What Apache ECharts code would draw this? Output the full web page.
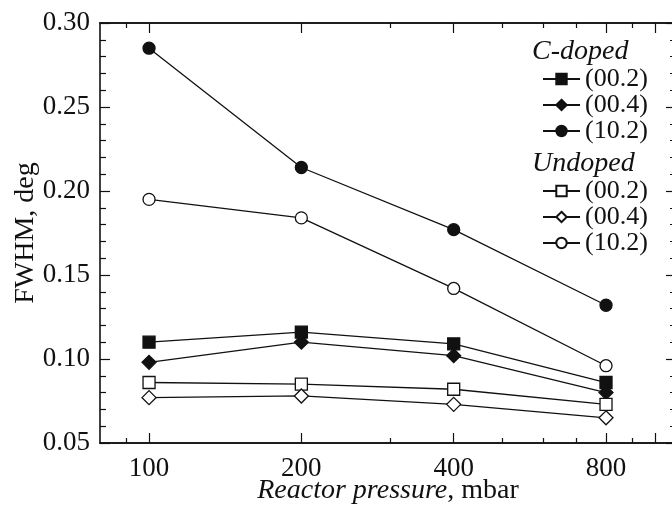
<!DOCTYPE html>
<head>
    <meta charset="utf-8">
    <title>FWHM vs reactor pressure</title>
    <script type="text/javascript" src="https://cdn.jsdelivr.net/npm/echarts@6/dist/echarts.min.js"></script>
    <style>
        html, body { margin: 0; padding: 0; background: #fff; }
    </style>
</head>

<body>
<div id="main" style="width:672px;height:506px"></div>

<script type="text/javascript">

    // data
    var pressures = [100, 200, 400, 800];
    var cDoped002 = [0.110, 0.116, 0.109, 0.086];
    var cDoped004 = [0.098, 0.110, 0.102, 0.080];
    var cDoped102 = [0.285, 0.214, 0.177, 0.132];
    var unDoped002 = [0.086, 0.085, 0.082, 0.073];
    var unDoped004 = [0.077, 0.078, 0.073, 0.065];
    var unDoped102 = [0.195, 0.184, 0.142, 0.096];

    // tick positions on the log pressure axis
    var xLabelTicks = [100, 200, 400, 800];
    var xMajorTicks = [100, 200, 400, 800, 1000];
    var xMinorTicks = [90, 300, 500, 600, 700, 900];

    var ink = '#111';
    var serif = '"Liberation Serif", "Times New Roman", serif';

    function pairs(ys) {
        var out = [];
        for (var i = 0; i < pressures.length; i++) {
            out.push([pressures[i], ys[i]]);
        }
        return out;
    }

    function xAxisDef(pos, ticks, len, withLabels) {
        return {
            type: 'log',
            logBase: 10,
            min: 80,
            max: 1100,
            position: pos,
            axisLine: { show: true, onZero: false, lineStyle: { color: ink, width: 1.6 } },
            axisTick: { show: true, inside: true, length: len, customValues: ticks,
                        lineStyle: { color: ink, width: 1.2 } },
            axisLabel: { show: withLabels, customValues: xLabelTicks, margin: 12,
                         color: ink, fontFamily: serif, fontSize: 27 },
            splitLine: { show: false },
            minorTick: { show: false },
            minorSplitLine: { show: false }
        };
    }

    function yAxisDef(pos, withLabels) {
        return {
            type: 'value',
            min: 0.05,
            max: 0.30,
            interval: 0.05,
            position: pos,
            axisLine: { show: true, lineStyle: { color: ink, width: 1.6 } },
            axisTick: { show: true, inside: true, length: 10, lineStyle: { color: ink, width: 1.2 } },
            minorTick: { show: true, splitNumber: 5, length: 6, lineStyle: { color: ink, width: 1.2 } },
            axisLabel: { show: withLabels, margin: 10, color: ink, fontFamily: serif, fontSize: 27,
                         formatter: function (v) { return v.toFixed(2); } },
            splitLine: { show: false }
        };
    }

    function lineSeries(name, ys, symbol, filled) {
        return {
            name: name,
            type: 'line',
            data: pairs(ys),
            symbol: symbol,
            symbolSize: symbol === 'diamond' ? 14 : 12,
            showSymbol: true,
            lineStyle: { color: ink, width: 1.3 },
            itemStyle: { color: filled ? ink : '#fff', borderColor: ink, borderWidth: 1.3 },
            z: 3,
            animation: false
        };
    }

    var myChart = echarts.init(document.getElementById('main'));

    var xName = xAxisDef('bottom', xMajorTicks, 10, true);
    xName.name = '{i|Reactor pressure}, mbar';
    xName.nameLocation = 'middle';
    xName.nameGap = 34;
    xName.nameMoveOverlap = false;
    xName.nameTextStyle = {
        color: ink, fontFamily: serif, fontSize: 28,
        rich: { i: { fontStyle: 'italic', color: ink, fontFamily: serif, fontSize: 28 } }
    };

    var yName = yAxisDef('left', true);
    yName.name = 'FWHM, deg';
    yName.nameLocation = 'middle';
    yName.nameGap = 60;
    yName.nameMoveOverlap = false;
    yName.nameTextStyle = { color: ink, fontFamily: serif, fontSize: 28 };

    var legendBase = {
        orient: 'vertical',
        left: 537,
        itemWidth: 37,
        itemHeight: 13,
        itemGap: 0,
        selectedMode: false,
        formatter: function (name) { return name.split(' ')[1]; },
        textStyle: { color: ink, fontFamily: serif, fontSize: 26, lineHeight: 25 }
    };

    var option = {
        animation: false,
        backgroundColor: '#fff',
        title: [
            { text: 'C-doped', left: 527, top: 33,
              textStyle: { color: ink, fontFamily: serif, fontSize: 28, fontStyle: 'italic', fontWeight: 'normal' } },
            { text: 'Undoped', left: 527, top: 145,
              textStyle: { color: ink, fontFamily: serif, fontSize: 28, fontStyle: 'italic', fontWeight: 'normal' } }
        ],
        legend: [
            Object.assign({}, legendBase, { top: 61, data: ['C (00.2)', 'C (00.4)', 'C (10.2)'] }),
            Object.assign({}, legendBase, { top: 173, data: ['U (00.2)', 'U (00.4)', 'U (10.2)'] })
        ],
        grid: { left: 100, top: 23, width: 576, height: 420, containLabel: false, outerBoundsMode: 'none' },
        xAxis: [
            xName,
            xAxisDef('bottom', xMinorTicks, 5, false),
            xAxisDef('top', xMajorTicks, 10, false),
            xAxisDef('top', xMinorTicks, 5, false)
        ],
        yAxis: [
            yName,
            yAxisDef('right', false)
        ],
        series: [
            lineSeries('C (00.2)', cDoped002, 'rect', true),
            lineSeries('C (00.4)', cDoped004, 'diamond', true),
            lineSeries('C (10.2)', cDoped102, 'circle', true),
            lineSeries('U (00.2)', unDoped002, 'rect', false),
            lineSeries('U (00.4)', unDoped004, 'diamond', false),
            lineSeries('U (10.2)', unDoped102, 'circle', false)
        ]
    };

    myChart.setOption(option);

</script>
</body>
